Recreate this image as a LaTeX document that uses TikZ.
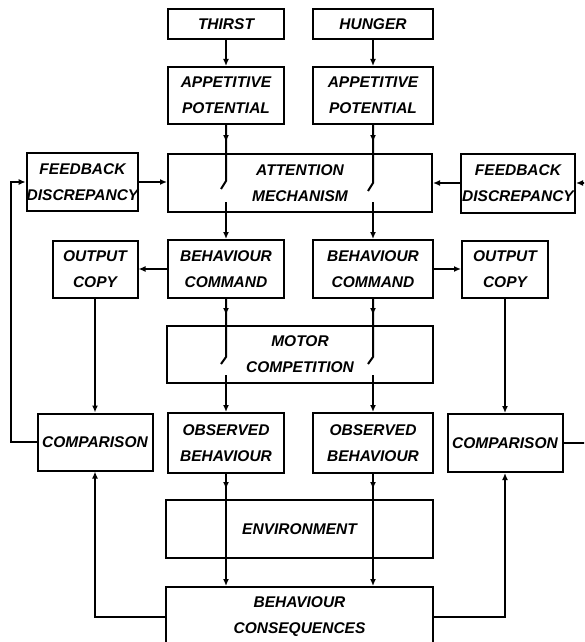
\documentclass[tikz,border=0pt]{standalone}
\usepackage{fontspec}
\setmainfont{Liberation Sans}
\usetikzlibrary{arrows.meta}
\begin{document}
\begin{tikzpicture}[x=1pt,y=-1pt,
  box/.style={draw, line width=2pt, inner sep=0pt, align=center,
    font=\fontsize{15.5}{26}\selectfont\bfseries\itshape},
  sz/.style 2 args={minimum width=#1pt, minimum height=#2pt},
  conn/.style={line width=2pt},
  tip/.style={-{Latex[length=7pt,width=6pt]}}
]
\useasboundingbox (0,0) rectangle (584,642);
\clip (0,0) rectangle (584,642);

% boxes
\node[box, sz={116}{30}] (thirst) at (226,24) {THIRST};
\node[box, sz={120}{30}] (hunger) at (373,24) {HUNGER};
\node[box, sz={116}{57}] (app1) at (226,95.5) {APPETITIVE\\POTENTIAL};
\node[box, sz={120}{57}] (app2) at (373,95.5) {APPETITIVE\\POTENTIAL};
\node[box, sz={264}{58}] (attn) at (300,183) {ATTENTION\\MECHANISM};
\node[box, sz={111}{58}] (fb1) at (82.5,182) {FEEDBACK\\DISCREPANCY};
\node[box, sz={114}{59}] (fb2) at (518,183) {FEEDBACK\\DISCREPANCY};
\node[box, sz={85}{57}] (oc1) at (95,269) {OUTPUT\\COPY};
\node[box, sz={116}{58}] (bc1) at (226,269) {BEHAVIOUR\\COMMAND};
\node[box, sz={120}{58}] (bc2) at (373,269) {BEHAVIOUR\\COMMAND};
\node[box, sz={86}{57}] (oc2) at (505,269) {OUTPUT\\COPY};
\node[box, sz={266}{57}] (mc) at (300,354.5) {MOTOR\\COMPETITION};
\node[box, sz={115}{57}] (cmp1) at (95,442) {COMPARISON};
\node[box, sz={116}{60}] (ob1) at (226,443) {OBSERVED\\BEHAVIOUR};
\node[box, sz={120}{60}] (ob2) at (373,443) {OBSERVED\\BEHAVIOUR};
\node[box, sz={115}{58}] (cmp2) at (505,443) {COMPARISON};
\node[box, sz={267}{58}] (env) at (299.5,529) {ENVIRONMENT};
\node[box, sz={267}{60}] (cons) at (299.5,617) {BEHAVIOUR\\CONSEQUENCES};

% switch contact points and arrow-mark points
\coordinate (a1) at (226,181); \coordinate (a1h) at (221,189); \coordinate (a1b) at (226,202);
\coordinate (a2) at (373,183); \coordinate (a2h) at (368,191); \coordinate (a2b) at (373,202);
\coordinate (m1) at (226,357); \coordinate (m1h) at (221,364); \coordinate (m1b) at (226,375);
\coordinate (m2) at (373,357); \coordinate (m2h) at (368,364); \coordinate (m2b) at (373,375);
\coordinate (ta1) at (226,142); \coordinate (ta2) at (373,142);
\coordinate (tm1) at (226,315); \coordinate (tm2) at (373,315);
\coordinate (te1) at (226,489); \coordinate (te2) at (373,489);
\coordinate (lloop) at (11,0);
\coordinate (rloop) at (592,0);

% drives to appetitive potential
\draw[conn,tip] (thirst) -- (app1);
\draw[conn,tip] (hunger) -- (app2);

% through attention mechanism
\draw[conn] (app1.south) -- (a1) -- (a1h);
\draw[conn,tip] (app1.south) -- (ta1);
\draw[conn] (app2.south) -- (a2) -- (a2h);
\draw[conn,tip] (app2.south) -- (ta2);
\draw[conn,tip] (a1b) -- (bc1.north);
\draw[conn,tip] (a2b) -- (bc2.north);

% through motor competition
\draw[conn] (bc1.south) -- (m1) -- (m1h);
\draw[conn,tip] (bc1.south) -- (tm1);
\draw[conn] (bc2.south) -- (m2) -- (m2h);
\draw[conn,tip] (bc2.south) -- (tm2);
\draw[conn,tip] (m1b) -- (ob1.north);
\draw[conn,tip] (m2b) -- (ob2.north);

% through environment
\draw[conn,tip] (ob1.south) -- (ob1.south |- cons.north);
\draw[conn,tip] (ob1.south) -- (te1);
\draw[conn,tip] (ob2.south) -- (ob2.south |- cons.north);
\draw[conn,tip] (ob2.south) -- (te2);

% feedback into attention
\draw[conn,tip] (fb1.east) -- (fb1.east -| attn.west);
\draw[conn,tip] (fb2.west) -- (fb2.west -| attn.east);

% output copies
\draw[conn,tip] (bc1.west) -- (bc1.west -| oc1.east);
\draw[conn,tip] (bc2.east) -- (bc2.east -| oc2.west);
\draw[conn,tip] (oc1) -- (cmp1);
\draw[conn,tip] (oc2) -- (cmp2);

% consequences to comparison
\draw[conn,tip] (cons.west) -| (cmp1.south);
\draw[conn,tip] (cons.east) -| (cmp2.south);

% comparison back to feedback discrepancy
\draw[conn,tip] (cmp1.west) -- (cmp1.west -| lloop) |- (fb1.west);
\draw[conn,tip] (cmp2.east) -- (cmp2.east -| rloop) |- (fb2.east);
\end{tikzpicture}
\end{document}
